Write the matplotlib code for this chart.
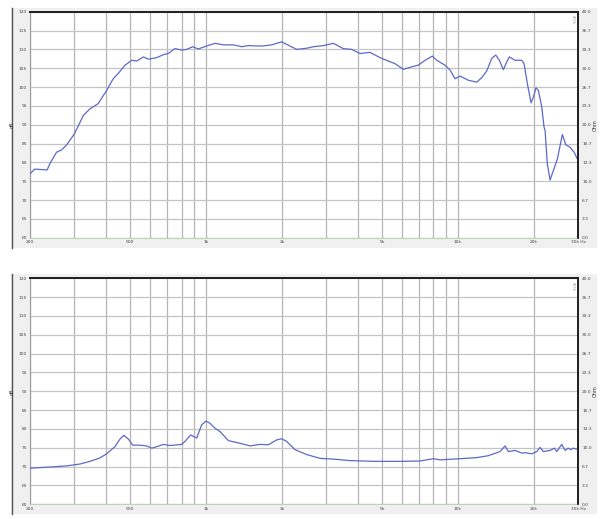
import matplotlib
matplotlib.use('Agg')
import matplotlib.pyplot as plt
from matplotlib.patches import Rectangle
import numpy as np

# SPL curve (top panel)
spl_freq = [200, 209, 234, 240, 255, 267, 280, 299, 307, 326, 346, 373, 403, 428, 448,
            477, 507, 531, 564, 590, 637, 677, 708, 753, 801, 838, 886, 932, 1006, 1086,
            1171, 1284, 1386, 1472, 1590, 1689, 1824, 1998, 2122, 2292, 2512, 2668, 2924,
            3204, 3510, 3790, 4088, 4480, 4910, 5296, 5632, 6076, 6658, 6968, 7410, 7920,
            8246, 8894, 9312, 9748, 10204, 11010, 11886, 12444, 13026, 13636, 14144, 14616,
            15162, 15640, 16016, 16870, 17936, 18318, 18882, 19530, 19944, 20440, 20880,
            21540, 22000, 22200, 22660, 23240, 23940, 24840, 25460, 26000, 26820, 27900,
            28940, 29820]
spl_db = [77.0, 78.2, 78.0, 79.7, 82.7, 83.3, 84.7, 87.4, 88.9, 92.5, 94.2, 95.6, 99.1,
          102.2, 103.6, 105.8, 107.1, 106.9, 108.0, 107.4, 107.8, 108.6, 108.9, 110.2,
          109.8, 110.0, 110.7, 110.1, 110.9, 111.6, 111.2, 111.2, 110.7, 111.0, 110.9,
          110.9, 111.2, 112.0, 111.1, 110.0, 110.3, 110.7, 111.0, 111.6, 110.2, 110.0,
          108.9, 109.2, 107.8, 106.9, 106.2, 104.7, 105.5, 105.8, 107.1, 108.2, 107.1,
          105.8, 104.5, 102.2, 102.9, 101.8, 101.3, 102.5, 104.3, 107.6, 108.5, 107.1,
          104.6, 106.7, 108.0, 107.1, 107.1, 106.2, 100.9, 95.8, 97.3, 99.8, 99.1, 94.7,
          89.3, 88.5, 79.6, 75.3, 77.8, 80.9, 84.4, 87.4, 84.7, 84.0, 82.7, 80.9]

# second curve (bottom panel)
low_freq = [200, 240, 280, 316, 346, 379, 403, 428, 435, 455, 472, 492, 512, 547, 581,
            609, 637, 677, 719, 801, 825, 869, 918, 961, 1000, 1037, 1086, 1137, 1227,
            1284, 1365, 1495, 1639, 1768, 1909, 1998, 2090, 2256, 2512, 2836, 3204, 3732,
            4690, 5896, 7078, 7996, 8498, 10204, 11886, 13218, 14276, 14712, 15396, 15868,
            16870, 17936, 18486, 19652, 20580, 21200, 21860, 23240, 24160, 24700, 25860,
            26660, 27460, 28080, 28760, 29820]
low_db = [69.6, 69.9, 70.2, 70.7, 71.4, 72.3, 73.4, 74.9, 75.3, 77.3, 78.3, 77.3, 75.7,
          75.7, 75.5, 74.9, 75.3, 75.9, 75.6, 75.9, 76.7, 78.4, 77.6, 81.1, 82.1, 81.5,
          80.2, 79.3, 76.9, 76.6, 76.2, 75.5, 75.9, 75.8, 77.1, 77.4, 76.7, 74.5, 73.2,
          72.2, 72.0, 71.6, 71.4, 71.4, 71.5, 72.1, 71.8, 72.1, 72.4, 72.9, 73.7, 74.0,
          75.5, 74.0, 74.3, 73.6, 73.7, 73.4, 74.0, 75.1, 74.0, 74.3, 74.9, 74.0, 75.9,
          74.3, 74.9, 74.5, 74.9, 74.6]

x_ticks = [200, 500, 1000, 2000, 5000, 10000, 20000, 30000]
x_labels = ['200', '500', '1k', '2k', '5k', '10k', '20k', '30k Hz']
grid_freqs = [200, 300, 400, 500, 600, 700, 800, 900, 1000, 2000, 3000, 4000, 5000,
              6000, 7000, 8000, 9000, 10000, 20000, 30000]
db_ticks = list(range(60, 121, 5))
ohm_ticks = [40 * i / 12 for i in range(13)]

W, H = 600, 519
fig = plt.figure(figsize=(W / 100, H / 100), dpi=100)
fig.patch.set_facecolor('white')

# background layer for the grey panels
bg = fig.add_axes([0, 0, 1, 1], zorder=-10)
bg.set_xlim(0, W)
bg.set_ylim(H, 0)
bg.axis('off')


def panel(top_px, freq, db):
    bg.add_patch(Rectangle((11, top_px - 4), 586, 240, facecolor='#f0f0f0', edgecolor='none'))
    bg.plot([11.5, 11.5], [top_px - 4, top_px + 236], color='#555555', lw=1.0)

    ax = fig.add_axes([30 / W, 1 - (top_px + 226) / H, 548 / W, 226 / H], zorder=1)
    ax.set_facecolor('white')
    ax.set_xscale('log')
    ax.set_xlim(200, 30000)
    ax.set_ylim(60, 120)
    for f in grid_freqs:
        ax.axvline(f, color='#b4b4b4', lw=0.9, zorder=1)
    for d in db_ticks:
        ax.axhline(d, color='#c4c4c4', lw=0.9, zorder=1)
    ax.plot(freq, db, color='#5a6ac8', lw=0.9, zorder=3)
    ax.set_xticks(x_ticks)
    ax.set_xticklabels(x_labels)
    ax.xaxis.set_minor_locator(matplotlib.ticker.NullLocator())
    ax.set_yticks(db_ticks)
    ax.set_yticklabels([str(d) for d in db_ticks])
    ax.tick_params(axis='both', length=0, labelsize=3.2, colors='#444444', pad=2)
    ax.set_ylabel('dB', fontsize=3.5, labelpad=3, color='#333333')
    for side in ['top', 'right']:
        ax.spines[side].set_color('#222222')
        ax.spines[side].set_linewidth(1.3)
    ax.spines['left'].set_color('#999999')
    ax.spines['bottom'].set_color('#b8d8b0')
    ax.spines['left'].set_linewidth(0.8)
    ax.spines['bottom'].set_linewidth(0.8)

    ax2 = ax.twinx()
    ax2.set_ylim(0, 40)
    ax2.set_yticks(ohm_ticks)
    ax2.set_yticklabels(['%.1f' % v for v in ohm_ticks])
    ax2.tick_params(axis='y', length=0, labelsize=3.2, colors='#444444', pad=3)
    ax2.set_ylabel('Ohm', fontsize=3.5, labelpad=1, color='#333333')
    for side in ['top', 'right']:
        ax2.spines[side].set_color('#222222')
        ax2.spines[side].set_linewidth(1.3)
    ax2.spines['left'].set_visible(False)
    ax2.spines['bottom'].set_visible(False)
    ax.text(0.995, 0.985, 'ARTA', transform=ax.transAxes, rotation=-90, fontsize=2.5,
            color='#aaaaaa', ha='right', va='top', zorder=4)
    return ax


panel(11.7, spl_freq, spl_db)
panel(278.3, low_freq, low_db)

fig.savefig('out.png', dpi=100)
plt.close(fig)
